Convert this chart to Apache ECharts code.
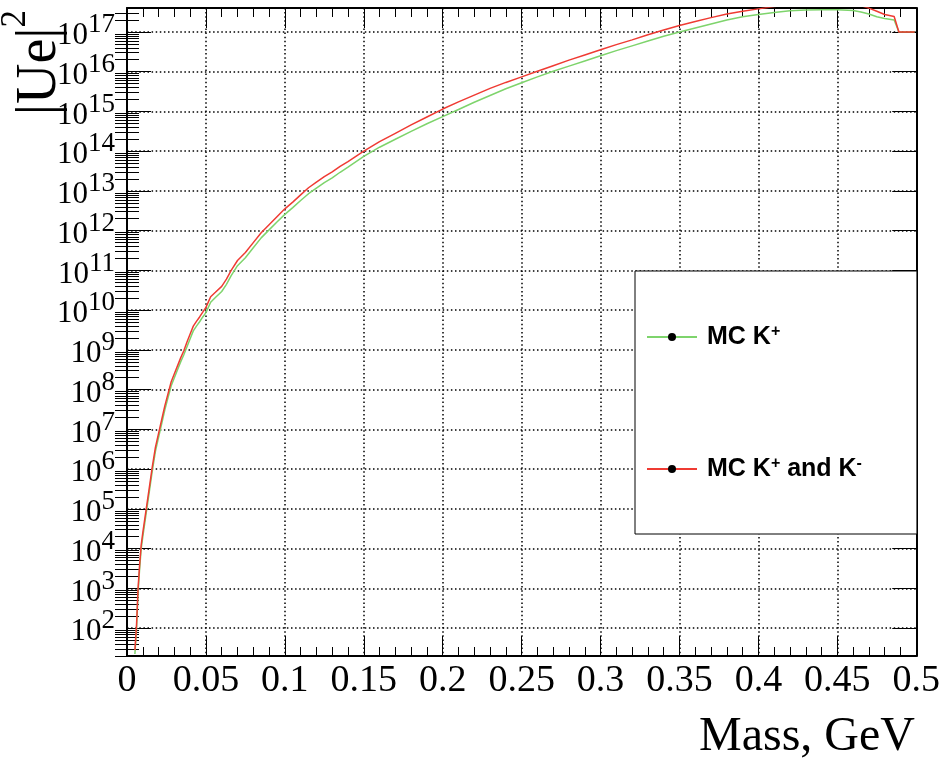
<!DOCTYPE html>
<html>
<head>
<meta charset="utf-8">
<script src="https://cdn.jsdelivr.net/npm/echarts@6/dist/echarts.min.js"></script>
<style>
  html, body { margin: 0; padding: 0; background: #fff; }
  #chart { width: 943px; height: 764px; }
</style>
</head>
<body>
<div id="chart"></div>
<script>
// mass bins, GeV
const mass = [0.005, 0.006, 0.007, 0.008, 0.009, 0.010, 0.012, 0.014, 0.016, 0.018,
  0.020, 0.022, 0.024, 0.026, 0.028, 0.030, 0.032, 0.034, 0.036, 0.038,
  0.040, 0.042, 0.044, 0.046, 0.048, 0.050, 0.053, 0.056, 0.060, 0.063,
  0.066, 0.070, 0.075, 0.080, 0.085, 0.090, 0.095, 0.100, 0.105, 0.110,
  0.115, 0.120, 0.125, 0.130, 0.135, 0.140, 0.150, 0.160, 0.170, 0.180,
  0.190, 0.200, 0.210, 0.220, 0.230, 0.240, 0.250, 0.260, 0.270, 0.280,
  0.290, 0.300, 0.310, 0.320, 0.330, 0.340, 0.350, 0.360, 0.370, 0.380,
  0.390, 0.400, 0.410, 0.420, 0.430, 0.440, 0.450, 0.460, 0.465, 0.470,
  0.475, 0.480, 0.486, 0.489, 0.499]

// log10 of |Ue|^2
const expKplus = [1.35, 1.95, 2.9, 3.5, 4.0, 4.3, 4.85, 5.4, 5.95, 6.45,
  6.8, 7.15, 7.5, 7.8, 8.1, 8.3, 8.5, 8.7, 8.88, 9.08,
  9.28, 9.48, 9.6, 9.71, 9.83, 9.94, 10.2, 10.32, 10.47, 10.65,
  10.87, 11.12, 11.32, 11.57, 11.82, 12.02, 12.22, 12.41, 12.58, 12.76,
  12.93, 13.07, 13.21, 13.33, 13.47, 13.6, 13.87, 14.1, 14.3, 14.5,
  14.69, 14.87, 15.05, 15.23, 15.4, 15.57, 15.72, 15.87, 16.01, 16.14,
  16.27, 16.4, 16.53, 16.65, 16.77, 16.89, 17.0, 17.1, 17.2, 17.3,
  17.38, 17.44, 17.49, 17.53, 17.55, 17.56, 17.56, 17.54, 17.5, 17.45,
  17.38, 17.34, 17.3, 17.0, 17.0]

const expKboth = [1.45, 2.05, 3.0, 3.6, 4.1, 4.4, 4.95, 5.5, 6.05, 6.55,
  6.9, 7.25, 7.6, 7.9, 8.2, 8.4, 8.6, 8.8, 8.98, 9.2,
  9.4, 9.6, 9.72, 9.83, 9.95, 10.07, 10.34, 10.45, 10.6, 10.78,
  11.0, 11.25, 11.45, 11.7, 11.95, 12.15, 12.35, 12.55, 12.72, 12.9,
  13.08, 13.22, 13.36, 13.48, 13.62, 13.74, 14.0, 14.24, 14.45, 14.66,
  14.86, 15.06, 15.24, 15.41, 15.58, 15.73, 15.87, 16.01, 16.15, 16.29,
  16.42, 16.55, 16.68, 16.8, 16.93, 17.05, 17.16, 17.26, 17.36, 17.45,
  17.52, 17.58, 17.64, 17.68, 17.71, 17.72, 17.72, 17.7, 17.66, 17.6,
  17.52, 17.44, 17.39, 17.0, 17.0]

const seriesNames = ['MC K+', 'MC K+ and K-']
const yExponents = [2, 3, 4, 5, 6, 7, 8, 9, 10, 11, 12, 13, 14, 15, 16, 17]

const yMin = 20
const yMax = 4e17

const majorY = yExponents.map((e) => Math.pow(10, e))
// blank labels at both ends so echarts' min/max label logic leaves the real ones alone
const labelY = [21].concat(majorY, [3.9e17])
const minorY = []
for (let e = 1; e <= 17; e++) {
  for (let k = 2; k <= 9; k++) {
    const v = k * Math.pow(10, e)
    if (v >= yMin && v <= yMax) minorY.push(v)
  }
}

const toPairs = (exps) => mass.map((m, i) => [m, Math.pow(10, exps[i])])

const serif = 'Liberation Serif'
const gridDash = { color: '#000', width: 1.5, type: [1.5, 2.6] }

const xBase = {
  type: 'value',
  min: 0,
  max: 0.5,
  interval: 0.05,
  axisLine: { show: true, onZero: false, lineStyle: { color: '#000', width: 2 } },
  axisTick: { show: true, inside: true, length: 20, lineStyle: { color: '#000', width: 1 } },
  minorTick: { show: true, splitNumber: 5, length: 9, lineStyle: { color: '#000', width: 1 } }
}

const yBase = {
  type: 'log',
  logBase: 10,
  min: yMin,
  max: yMax,
  offset: 0,
  axisLine: { show: true, onZero: false, lineStyle: { color: '#000', width: 2 } },
  splitLine: { show: false },
  axisLabel: { show: false }
}

const expLabel = (v) => {
  const e = Math.log10(v)
  if (Math.abs(e - Math.round(e)) > 1e-6) return ''
  return '{b|10}{s|' + Math.round(e) + '}'
}

const chart = echarts.init(document.getElementById('chart'))

chart.setOption({
  animation: false,
  backgroundColor: '#fff',
  grid: { left: 127, right: 26, top: 8, bottom: 108 },
  xAxis: [
    {
      ...xBase,
      position: 'bottom',
      splitLine: { show: true, lineStyle: gridDash },
      axisLabel: {
        margin: 6,
        color: '#000',
        fontFamily: serif,
        fontSize: 38,
        showMinLabel: true,
        showMaxLabel: true
      }
    },
    {
      ...xBase,
      position: 'top',
      splitLine: { show: false },
      axisLabel: { show: false }
    }
  ],
  yAxis: [
    {
      ...yBase,
      position: 'left',
      axisTick: { show: true, inside: true, length: 24, customValues: majorY, lineStyle: { color: '#000', width: 1 } },
      splitLine: { show: true, lineStyle: gridDash },
      axisLabel: {
        show: true,
        customValues: labelY,
        showMinLabel: false,
        showMaxLabel: false,
        hideOverlap: false,
        margin: 12,
        formatter: expLabel,
        rich: {
          b: { fontFamily: serif, fontSize: 31, lineHeight: 28, color: '#000', padding: [8, 0, 0, 0] },
          s: { fontFamily: serif, fontSize: 27, lineHeight: 22, color: '#000', padding: [0, 0, 14, 0] }
        }
      }
    },
    {
      ...yBase,
      position: 'right',
      axisTick: { show: true, inside: true, length: 24, customValues: majorY, lineStyle: { color: '#000', width: 1 } }
    },
    {
      ...yBase,
      position: 'left',
      axisLine: { show: false },
      axisTick: { show: true, inside: true, length: 12, customValues: minorY, lineStyle: { color: '#000', width: 1 } }
    },
    {
      ...yBase,
      position: 'right',
      axisLine: { show: false },
      axisTick: { show: true, inside: true, length: 12, customValues: minorY, lineStyle: { color: '#000', width: 1 } }
    }
  ],
  legend: {
    orient: 'vertical',
    left: 635,
    top: 271,
    padding: [53, 55, 50, 11],
    itemWidth: 50,
    itemHeight: 10,
    itemGap: 104,
    backgroundColor: '#fff',
    borderColor: '#000',
    borderWidth: 1,
    borderRadius: 0,
    data: seriesNames,
    formatter: (name) => name === seriesNames[0]
      ? '{f|MC K}{s|+}'
      : '{f|MC K}{s|+}{t| and K}{s|-}',
    textStyle: {
      rich: {
        f: { fontFamily: 'Liberation Sans', fontWeight: 'bold', fontSize: 25, color: '#000', padding: [0, 0, 0, 5], verticalAlign: 'bottom', lineHeight: 26 },
        t: { fontFamily: 'Liberation Sans', fontWeight: 'bold', fontSize: 25, color: '#000', verticalAlign: 'bottom', lineHeight: 26 },
        s: { fontFamily: 'Liberation Sans', fontWeight: 'bold', fontSize: 16, color: '#000', verticalAlign: 'top', lineHeight: 16, padding: [0, 0, 12, 0] }
      }
    }
  },
  graphic: [
    {
      type: 'text',
      right: 28,
      top: 713,
      style: { text: 'Mass, GeV', fontFamily: serif, fontSize: 48, fill: '#000' }
    },
    {
      type: 'text',
      x: 33,
      y: 10,
      rotation: Math.PI / 2,
      style: {
        text: '{b||Ue|}{s|2}',
        align: 'right',
        verticalAlign: 'middle',
        rich: {
          b: { fontFamily: serif, fontSize: 56, lineHeight: 56, fill: '#000', padding: [14, 0, 0, 0] },
          s: { fontFamily: serif, fontSize: 35, lineHeight: 35, fill: '#000', padding: [0, 0, 35, 0] }
        }
      }
    }
  ],
  series: [
    {
      name: seriesNames[0],
      type: 'line',
      xAxisIndex: 0,
      yAxisIndex: 0,
      data: toPairs(expKplus),
      showSymbol: false,
      symbol: 'circle',
      itemStyle: { color: '#000' },
      lineStyle: { color: '#7ed46c', width: 1.5 },
      emphasis: { disabled: true }
    },
    {
      name: seriesNames[1],
      type: 'line',
      xAxisIndex: 0,
      yAxisIndex: 0,
      data: toPairs(expKboth),
      showSymbol: false,
      symbol: 'circle',
      itemStyle: { color: '#000' },
      lineStyle: { color: '#ef3b33', width: 1.5 },
      emphasis: { disabled: true }
    }
  ]
})
</script>
</body>
</html>
